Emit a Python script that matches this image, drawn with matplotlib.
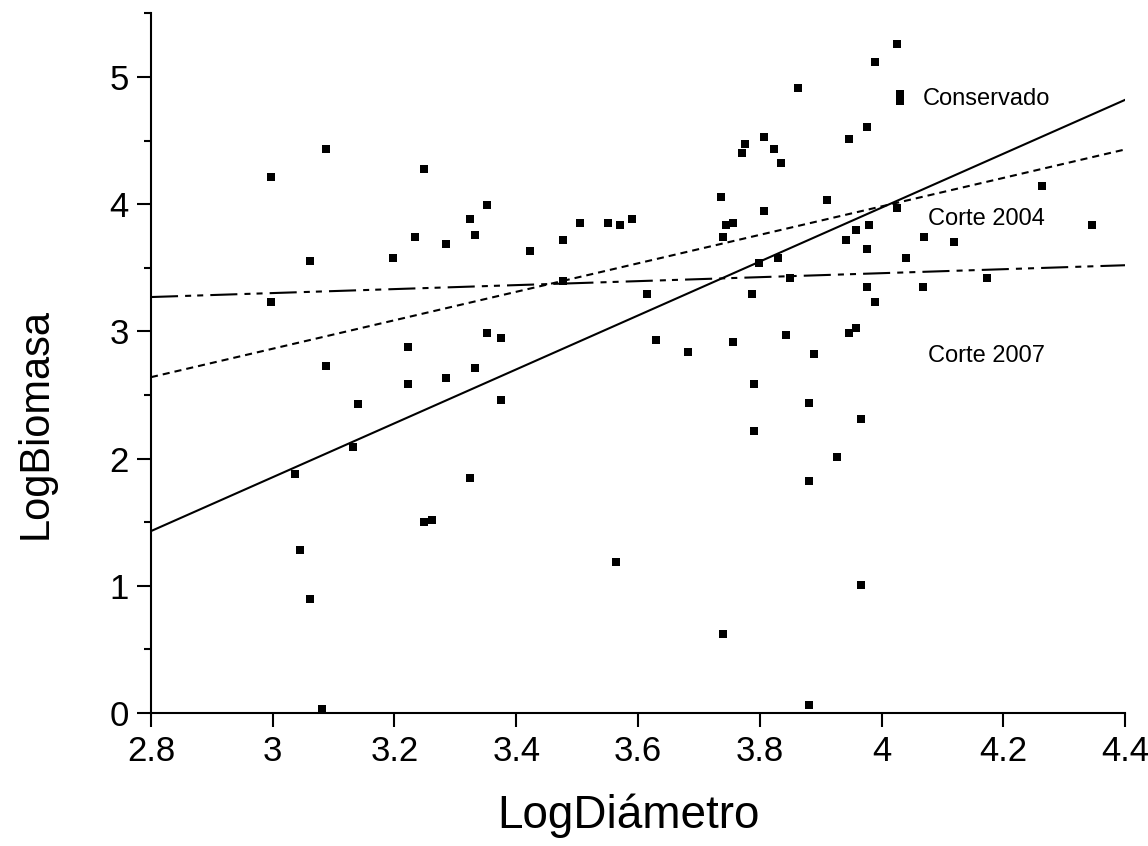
import matplotlib.pyplot as plt
from matplotlib.ticker import MultipleLocator

plt.rcParams['font.family'] = ['Liberation Sans', 'DejaVu Sans']

# scatter data
log_diam = [2.997, 3.087, 3.248, 3.352, 3.324, 3.234, 3.285, 3.332, 3.061, 3.198,
            2.997, 3.222, 3.352, 3.087, 3.332, 3.285, 3.222, 3.140, 3.132, 3.037,
            3.324, 3.248, 3.262, 3.045, 3.061, 3.081,
            3.863, 3.807, 3.776, 3.771, 3.823, 3.835, 3.736, 3.910, 3.807, 3.505,
            3.551, 3.570, 3.590, 3.745, 3.756, 3.740, 3.477, 3.423, 3.830, 3.799,
            3.477, 3.850, 3.615, 3.787, 3.375, 3.630, 3.756, 3.843, 3.682, 3.889,
            3.375, 3.791, 3.881, 3.791, 3.881, 3.564, 3.740, 3.881,
            4.025, 3.989, 4.030, 4.030, 3.976, 3.946, 4.264, 4.025, 3.958, 3.980,
            3.942, 4.346, 4.070, 4.119, 3.976, 4.040, 4.173, 3.976, 4.068, 3.989,
            3.958, 3.946, 3.966, 3.927, 3.966]
log_biom = [4.21, 4.43, 4.28, 3.99, 3.88, 3.74, 3.69, 3.76, 3.55, 3.58,
            3.23, 2.88, 2.99, 2.73, 2.71, 2.63, 2.59, 2.43, 2.09, 1.88,
            1.85, 1.50, 1.52, 1.28, 0.90, 0.03,
            4.91, 4.53, 4.47, 4.40, 4.43, 4.32, 4.06, 4.03, 3.95, 3.85,
            3.85, 3.84, 3.88, 3.84, 3.85, 3.74, 3.72, 3.63, 3.58, 3.54,
            3.40, 3.42, 3.29, 3.29, 2.95, 2.93, 2.92, 2.97, 2.84, 2.82,
            2.46, 2.59, 2.44, 2.22, 1.82, 1.19, 0.62, 0.06,
            5.26, 5.12, 4.87, 4.81, 4.61, 4.51, 4.14, 3.97, 3.80, 3.84,
            3.72, 3.84, 3.74, 3.70, 3.65, 3.58, 3.42, 3.35, 3.35, 3.23,
            3.03, 2.99, 2.31, 2.01, 1.01]

# fitted lines (end points)
line_x = [2.8, 4.4]
conservado = [1.43, 4.82]
corte_2004 = [2.64, 4.43]
corte_2007 = [3.27, 3.52]

fig = plt.figure(figsize=(11.48, 8.46), dpi=100)
ax = fig.add_axes([0.1315, 0.1572, 0.8485, 0.827])

ax.plot(log_diam, log_biom, 's', color='black', markersize=5.8, markeredgewidth=0)

ax.plot(line_x, conservado, '-', color='black', lw=1.5)
ax.plot(line_x, corte_2004, color='black', lw=1.5, dashes=(3.4, 2.4))
ax.plot(line_x, corte_2007, color='black', lw=1.5, dashes=(13, 3.4, 2.9, 2.9, 2.9, 3.4))

ax.text(4.068, 4.83, 'Conservado', fontsize=17, va='center', ha='left')
ax.text(4.076, 3.88, 'Corte 2004', fontsize=17, va='center', ha='left')
ax.text(4.076, 2.81, 'Corte 2007', fontsize=17, va='center', ha='left')

ax.set_xlim(2.8, 4.4)
ax.set_ylim(0, 5.5)
ax.set_xticks([2.8, 3.0, 3.2, 3.4, 3.6, 3.8, 4.0, 4.2, 4.4])
ax.set_xticklabels(['2.8', '3', '3.2', '3.4', '3.6', '3.8', '4', '4.2', '4.4'])
ax.set_yticks([0, 1, 2, 3, 4, 5])
ax.yaxis.set_minor_locator(MultipleLocator(0.5))

for side in ['top', 'right']:
    ax.spines[side].set_visible(False)
for side in ['left', 'bottom']:
    ax.spines[side].set_linewidth(1.5)

ax.tick_params(axis='both', which='major', direction='out', length=10, width=1.5,
               labelsize=25, pad=6)
ax.tick_params(axis='y', which='minor', direction='out', length=5, width=1.5)

ax.set_xlabel('LogDiámetro', fontsize=33)
ax.set_ylabel('LogBiomasa', fontsize=30)
ax.xaxis.set_label_coords(0.49, -0.115)
ax.yaxis.set_label_coords(-0.098, 0.414)

fig.savefig('out.png', dpi=100)
